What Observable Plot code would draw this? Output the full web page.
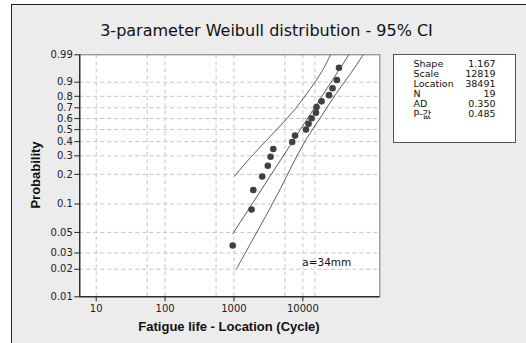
<!DOCTYPE html>
<html><head><meta charset="utf-8">
<script src="https://cdn.jsdelivr.net/npm/d3@7"></script>
<script src="https://cdn.jsdelivr.net/npm/@observablehq/plot@0.6"></script>
<style>
html,body{margin:0;padding:0;background:#fff;}
#wrap{position:relative;width:526px;height:343px;overflow:hidden;font-family:"DejaVu Sans","Noto Sans CJK KR",sans-serif;}
#panel{position:absolute;left:11px;top:4px;right:-5px;bottom:-5px;background:#ececec;border-left:1px solid #222;border-top:1px solid #222;}
#chart{position:absolute;left:0;top:0;}
.t{position:absolute;white-space:nowrap;color:#111;}
#title{left:266.5px;top:23px;font-size:16px;line-height:16px;transform:translateX(-50%);}
#ylab{left:34.5px;top:175px;font-family:"Liberation Sans",Arial,sans-serif;font-weight:bold;font-size:13px;line-height:13px;transform:translate(-50%,-50%) rotate(-90deg);}
#xlab{left:229px;top:325.5px;font-family:"Liberation Sans",Arial,sans-serif;font-weight:bold;font-size:13px;line-height:13px;transform:translate(-50%,-50%);}
#legend{position:absolute;left:392.5px;top:53.5px;width:121px;height:87px;background:#fff;border:1px solid #555;font-size:9.5px;color:#111;font-family:"DejaVu Sans","Noto Sans CJK KR",sans-serif;}
.row{position:absolute;left:20px;width:82px;height:10px;line-height:10px;white-space:nowrap;}
.row .k{position:absolute;left:0;top:0;height:10px;}
.row .v{position:absolute;right:0;top:0;height:10px;}
.kr{display:inline-block;height:10px;line-height:10px;vertical-align:top;overflow:visible;font-family:"Noto Sans CJK KR",sans-serif;font-size:9.5px;}
</style></head><body>
<div id="wrap"><div id="panel"></div><div id="chart"></div>
<div class="t" id="title"></div>
<div class="t" id="ylab"></div>
<div class="t" id="xlab"></div>
<div id="legend"></div>
</div>
<script>
// ---- data ----
const titleText = "3-parameter Weibull distribution - 95% CI";
const xLabel = "Fatigue life - Location (Cycle)";
const yLabel = "Probability";
const cycles = [960, 1800, 1910, 2570, 3100, 3400, 3720, 7010, 7700, 11100, 12100, 13400, 15500, 15800, 18700, 24000, 27000, 31200, 33500];
const probs = [0.0361, 0.0876, 0.1392, 0.1907, 0.2423, 0.2938, 0.3454, 0.3969, 0.4485, 0.5, 0.5515, 0.6031, 0.6546, 0.7062, 0.7577, 0.8093, 0.8608, 0.9124, 0.9639];
const fitX = [960, 46500];
const fitP = [0.0483, 0.99];
const upperX = [1020, 1740, 2870, 4740, 7830, 12900, 19300, 25200];
const upperP = [0.192, 0.290, 0.401, 0.536, 0.693, 0.859, 0.955, 0.99];
const lowerX = [1090, 1740, 2870, 4740, 7090, 10900, 18100, 29800, 49300, 75300];
const lowerP = [0.0202, 0.038, 0.0739, 0.1444, 0.249, 0.409, 0.61, 0.815, 0.943, 0.99];
const yTickVals = [0.01, 0.02, 0.03, 0.05, 0.1, 0.2, 0.3, 0.4, 0.5, 0.6, 0.7, 0.8, 0.9, 0.99];
const yTickLabels = ["0.01", "0.02", "0.03", "0.05", "0.1", "0.2", "0.3", "0.4", "0.5", "0.6", "0.7", "0.8", "0.9", "0.99"];
const yGridVals = [0.02, 0.03, 0.05, 0.1, 0.2, 0.3, 0.4, 0.5, 0.6, 0.7, 0.8, 0.9];
const xTickVals = [10, 100, 1000, 10000];
const xTickLabels = ["10", "100", "1000", "10000"];
const xGridVals = [10, 55, 100, 550, 1000, 5500, 10000, 15000];
const legendKeys = ["Shape", "Scale", "Location", "N", "AD", "P-값"];
const legendVals = ["1.167", "12819", "38491", "19", "0.350", "0.485"];
const noteText = "a=34mm";
const noteX = 9800, noteP = 0.0238;
const xDomain = [5.78, 131000];
const pDomain = [0.01, 0.99];

// ---- build ----
const wt = p => Math.log(-Math.log(1 - p));
const pts = cycles.map((c, i) => ({x: c, y: wt(probs[i])}));
const mk = (xs, ps) => xs.map((x, i) => ({x, y: wt(ps[i])}));
const yLabMap = new Map(yTickVals.map((v, i) => [wt(v), yTickLabels[i]]));
const xLabMap = new Map(xTickVals.map((v, i) => [v, xTickLabels[i]]));
const lineStyle = {x: "x", y: "y", stroke: "#333", strokeWidth: 0.8, curve: "catmull-rom"};
const grid = {stroke: "#c4c4c4", strokeWidth: 1, strokeDasharray: "4,3"};

const chart = Plot.plot({
  width: 526, height: 343,
  marginTop: 54.3, marginBottom: 46.7, marginLeft: 79.3, marginRight: 146.7,
  x: {type: "log", domain: xDomain},
  y: {type: "linear", domain: pDomain.map(wt)},
  style: {background: "transparent", fontFamily: "DejaVu Sans", fontSize: "10px", color: "#222", overflow: "visible"},
  marks: [
    Plot.frame({fill: "white", stroke: "none"}),
    Plot.ruleX(xGridVals, grid),
    Plot.ruleY(yGridVals.map(wt), grid),
    Plot.line(mk(upperX, upperP), lineStyle),
    Plot.line(mk(fitX, fitP), {...lineStyle, curve: "linear"}),
    Plot.line(mk(lowerX, lowerP), lineStyle),
    Plot.dot(pts, {x: "x", y: "y", r: 3.3, fill: "#404040", stroke: "none"}),
    Plot.text([noteText], {x: () => noteX, y: () => wt(noteP), text: d => d, textAnchor: "start", fontSize: 10.5, fill: "#111"}),
    Plot.frame({stroke: "#777"}),
    Plot.ruleX([xDomain[0]], {stroke: "#000"}),
    Plot.ruleY([wt(pDomain[0])], {stroke: "#000"}),
    Plot.axisX({ticks: xTickVals, tickFormat: d => xLabMap.get(d), tickSize: 5, tickPadding: 3, label: null}),
    Plot.axisY({ticks: yTickVals.map(wt), tickFormat: d => yLabMap.get(d), tickSize: 5, tickPadding: 2, label: null})
  ]
});
document.getElementById("chart").appendChild(chart);
document.getElementById("title").textContent = titleText;
document.getElementById("xlab").textContent = xLabel;
document.getElementById("ylab").textContent = yLabel;
const lg = document.getElementById("legend");
legendKeys.forEach((k, i) => {
  const r = document.createElement("div");
  r.className = "row";
  r.style.top = (4 + i * 10) + "px";
  const a = document.createElement("span"); a.className = "k";
  // wrap Hangul characters so they use the Korean font
  for (const part of k.split(/([\uAC00-\uD7A3]+)/)) {
    if (!part) continue;
    if (/[\uAC00-\uD7A3]/.test(part)) {
      const s = document.createElement("span"); s.className = "kr"; s.textContent = part; a.appendChild(s);
    } else a.appendChild(document.createTextNode(part));
  }
  const b = document.createElement("span"); b.className = "v"; b.textContent = legendVals[i];
  r.appendChild(a); r.appendChild(b); lg.appendChild(r);
});
</script>
</body></html>
